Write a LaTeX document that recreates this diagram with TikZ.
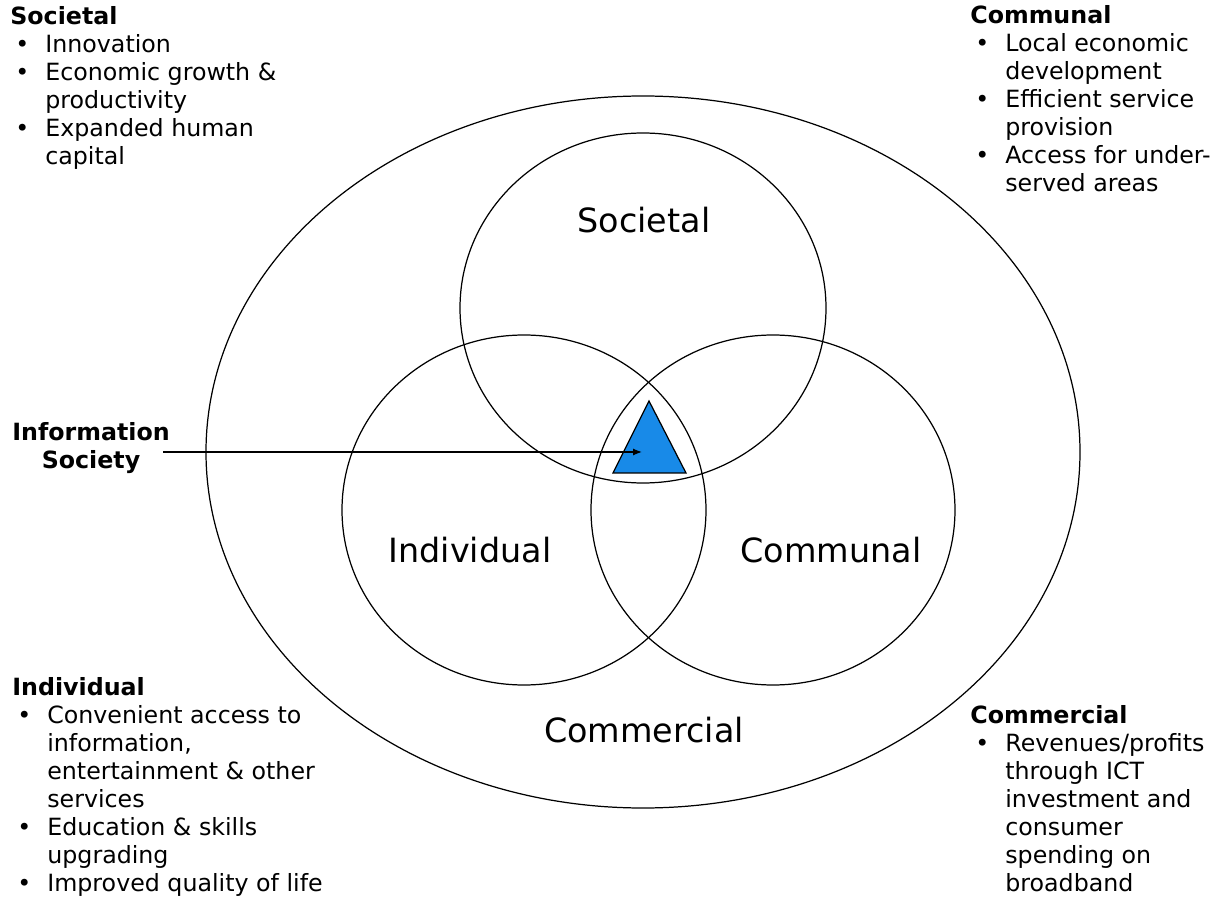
\documentclass[tikz,border=0pt]{standalone}
\usepackage{fontspec}
\setmainfont{DejaVu Sans}
\usepackage{tikz}
\tikzset{>=latex}
\usetikzlibrary{arrows.meta}
\definecolor{triblue}{RGB}{24,138,232}

\newcommand{\bul}{\makebox[0.7cm][l]{\hspace{0.1cm}\textbullet}}
\newcommand{\cont}{\hspace*{0.7cm}}

\begin{document}
\begin{tikzpicture}[x=0.02cm, y=-0.02cm,
    ring/.style={draw=black, line width=0.7pt},
    bigtext/.style={font=\fontsize{19}{23}\selectfont, anchor=base, inner sep=0pt},
    listtext/.style={font=\fontsize{13.5}{15.94}\selectfont, align=left, anchor=north west, inner sep=0pt},
    headtext/.style={font=\fontsize{13.5}{15.94}\selectfont\bfseries, align=center, inner sep=0pt}]
   \useasboundingbox (0,0) rectangle (1228,905);

   % circles
   \draw[ring] (643,452) ellipse [x radius=437, y radius=356];
   \draw[ring] (643,308) ellipse [x radius=183, y radius=175];
   \draw[ring] (524,510) ellipse [x radius=182, y radius=175];
   \draw[ring] (773,510) ellipse [x radius=182, y radius=175];

   % triangle in the middle
   \filldraw[fill=triblue, draw=black, line width=0.7pt] (649,401) -- (686,473) -- (613,473) -- cycle;
   \coordinate (tip) at (642,452);

   \node[bigtext] (socl) at (644,233) {Societal};
   \node[bigtext] (indl) at (470,562) {Individual};
   \node[bigtext] (coml) at (831,562) {Communal};
   \node[bigtext] (cmcl) at (644,742) {Commercial};

   \node[headtext] (infosoc) at (91,448) {Information\\Society};
   \draw[-{Latex[length=0.18cm,width=0.14cm]}, line width=0.7pt, shorten <=-4pt] (infosoc.east |- tip) -- (tip);

   % lists
   \node[listtext] (soclist) at (10,6) {\textbf{Societal}\\
       \bul Innovation\\
       \bul Economic growth \&\\
       \cont productivity\\
       \bul Expanded human\\
       \cont capital};
   \node[listtext] (comlist) at (970,5) {\textbf{Communal}\\
       \bul Local economic\\
       \cont development\\
       \bul Efficient service\\
       \cont provision\\
       \bul Access for under-\\
       \cont served areas};
   \node[listtext] (indlist) at (12,677) {\textbf{Individual}\\
       \bul Convenient access to\\
       \cont information,\\
       \cont entertainment \& other\\
       \cont services\\
       \bul Education \& skills\\
       \cont upgrading\\
       \bul Improved quality of life};
   \node[listtext] (cmclist) at (970,705) {\textbf{Commercial}\\
       \bul Revenues/profits\\
       \cont through ICT\\
       \cont investment and\\
       \cont consumer\\
       \cont spending on\\
       \cont broadband};
\end{tikzpicture}
\end{document}
